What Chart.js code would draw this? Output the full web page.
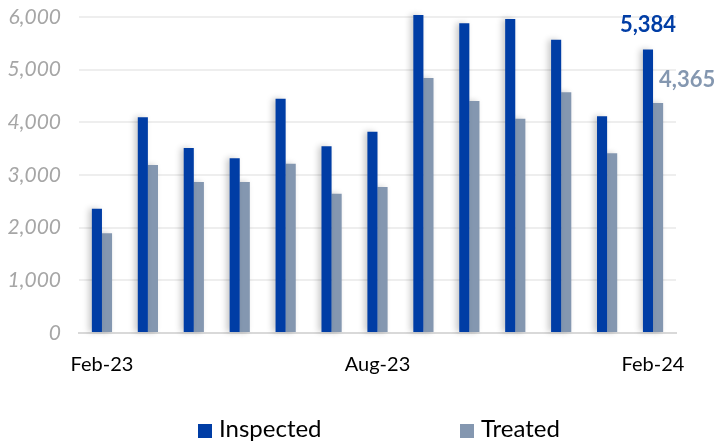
<!DOCTYPE html>
<html>
<head>
<meta charset="utf-8">
<script src="https://cdn.jsdelivr.net/npm/chart.js@4"></script>
<style>
  html, body { margin: 0; padding: 0; background: #fff; }
  #wrap { width: 715px; height: 443px; position: relative; }
  .legend-item { position: absolute; top: 413px; font: 24px Lato, "Open Sans", sans-serif; color: #000; line-height: 30px; white-space: nowrap; }
  .legend-item i { display: inline-block; width: 14px; height: 14px; margin-right: 7px; vertical-align: -1px; }
</style>
</head>
<body>
<div id="wrap">
  <canvas id="chart"></canvas>
  <div class="legend-item" style="left:198px"><i style="background:#003da5"></i>Inspected</div>
  <div class="legend-item" style="left:460px"><i style="background:#8497b0"></i>Treated</div>
</div>
<script>
// === Data ===
const months = ['Feb-23','Mar-23','Apr-23','May-23','Jun-23','Jul-23','Aug-23','Sep-23','Oct-23','Nov-23','Dec-23','Jan-24','Feb-24'];
const shownMonths = ['Feb-23','Aug-23','Feb-24'];
const inspected = [2360, 4095, 3512, 3317, 4449, 3545, 3822, 6038, 5880, 5962, 5569, 4114, 5384];
const treated = [1893, 3190, 2867, 2867, 3215, 2645, 2772, 4841, 4405, 4069, 4570, 3412, 4365];
const yTicks = [0, 1000, 2000, 3000, 4000, 5000, 6000];

const BLUE = '#003da5';
const GREY = '#8497b0';
const FONT = 'Lato, "Open Sans", sans-serif';

// soft shadow behind the bars
const barShadow = {
  id: 'barShadow',
  beforeDatasetsDraw(chart) {
    const ctx = chart.ctx;
    ctx.save();
    ctx.shadowColor = 'rgba(0,0,0,0.22)';
    ctx.shadowBlur = 6;
    ctx.shadowOffsetX = -3;
  },
  afterDatasetsDraw(chart) { chart.ctx.restore(); }
};

// value labels for the last month only
const labelOffsets = [[0, -25], [29, -23]];
const lastLabels = {
  id: 'lastLabels',
  afterDatasetsDraw(chart) {
    const ctx = chart.ctx;
    const last = months.length - 1;
    ctx.save();
    ctx.font = 'bold 22px ' + FONT;
    ctx.textAlign = 'center';
    ctx.textBaseline = 'middle';
    chart.data.datasets.forEach((ds, i) => {
      const bar = chart.getDatasetMeta(i).data[last];
      ctx.fillStyle = ds.backgroundColor;
      ctx.fillText(ds.data[last].toLocaleString('en-US'), bar.x + labelOffsets[i][0], bar.y + labelOffsets[i][1]);
    });
    ctx.restore();
  }
};

new Chart(document.getElementById('chart'), {
  type: 'bar',
  data: {
    labels: months,
    datasets: [
      { label: 'Inspected', data: inspected, backgroundColor: BLUE, clip: false },
      { label: 'Treated', data: treated, backgroundColor: GREY, clip: false }
    ]
  },
  options: {
    responsive: true,
    maintainAspectRatio: false,
    animation: false,
    categoryPercentage: 0.44,
    barPercentage: 1,
    layout: { padding: { top: 17, right: 39, left: 0, bottom: 0 } },
    plugins: {
      legend: { display: false },
      tooltip: { enabled: false }
    },
    scales: {
      x: {
        afterFit: s => { s.height = 110; },
        grid: { display: false },
        border: { color: '#d9d9d9', width: 2 },
        ticks: {
          autoSkip: false, maxRotation: 0, color: '#000', padding: 12,
          font: { family: FONT, size: 20 },
          callback: (v, i) => shownMonths.includes(months[i]) ? months[i] : ''
        }
      },
      y: {
        min: 0, max: 6000,
        afterFit: s => { s.width = 79; s.paddingTop = 0; s.paddingBottom = 0; },
        afterBuildTicks: s => { s.ticks = yTicks.map(v => ({ value: v })); },
        grid: { color: '#eeeeee', lineWidth: 2, drawTicks: false },
        border: { display: false },
        ticks: {
          color: '#a6a6a6', padding: 18,
          font: { family: FONT, size: 21, style: 'italic' },
          callback: v => v.toLocaleString('en-US')
        }
      }
    }
  },
  plugins: [barShadow, lastLabels]
});
</script>
</body>
</html>
